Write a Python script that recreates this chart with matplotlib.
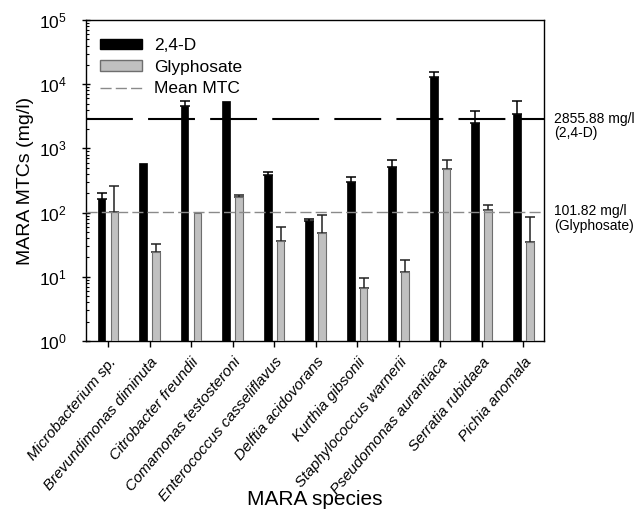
import matplotlib
matplotlib.use('Agg')
import matplotlib.pyplot as plt
import numpy as np
from matplotlib.transforms import blended_transform_factory
from matplotlib.patches import Patch
from matplotlib.lines import Line2D
from matplotlib.ticker import LogLocator, NullFormatter

plt.rcParams['font.family'] = ['Liberation Sans', 'DejaVu Sans']
plt.rcParams['mathtext.fontset'] = 'custom'
plt.rcParams['mathtext.rm'] = 'Liberation Sans'
plt.rcParams['mathtext.it'] = 'Liberation Sans:italic'

species = ["Microbacterium sp.", "Brevundimonas diminuta", "Citrobacter freundii",
           "Comamonas testosteroni", "Enterococcus casseliflavus", "Delftia acidovorans",
           "Kurthia gibsonii", "Staphylococcus warnerii", "Pseudomonas aurantiaca",
           "Serratia rubidaea", "Pichia anomala"]
d24_values = [161, 598, 4620, 5530, 385, 74, 302, 512, 13100, 2460, 3435]
d24_upper = [199, None, 5410, None, 434, 80, 363, 653, 15700, 3780, 5530]
gly_values = [103, 24, 100, 173, 36.5, 48, 6.8, 11.9, 472, 110, 35]
gly_upper = [256, 32.8, None, 190, 59.7, 92, 9.5, 18, 653, 131, 85]
mean_d24 = 2855.88
mean_gly = 101.82

W, H = 637, 515
fig = plt.figure(figsize=(W / 100, H / 100), dpi=100)
ax = fig.add_axes([86 / W, 1 - 341 / H, (544 - 86) / W, (341 - 20) / H])
ax.set_yscale('log')

x = np.arange(len(species))
bw = 0.185
off = 0.155
black_col = '#000000'
grey_col = '#c0c0c0'
ax.bar(x - off, d24_values, width=bw, color=black_col, edgecolor=black_col, linewidth=0.5, zorder=3)
ax.bar(x + off, gly_values, width=bw, color=grey_col, edgecolor='#6e6e6e', linewidth=0.8, zorder=3)

def up_err(vals, ups, xs, color):
    idx = [i for i, u in enumerate(ups) if u is not None]
    xv = [xs[i] for i in idx]
    yv = [vals[i] for i in idx]
    e = [ups[i] - vals[i] for i in idx]
    ax.errorbar(xv, yv, yerr=[np.zeros(len(e)), e], fmt='none', ecolor=color,
                elinewidth=1.1, capsize=3.3, capthick=1.1, zorder=2)

up_err(d24_values, d24_upper, x - off, '#000000')
up_err(gly_values, gly_upper, x + off, '#222222')

ax.axhline(mean_d24, color='black', lw=1.5, linestyle=(0, (22.5, 7.3)), zorder=4)
ax.axhline(mean_gly, color='#8a8a8a', lw=1.0, linestyle=(0, (8, 3)), zorder=4)

ax.set_xlim(-0.53, 10.5)
ax.set_ylim(1, 1e5)
ax.set_xticks(x)
ax.set_xticklabels(species, rotation=50, ha='right', va='top', rotation_mode='anchor',
                   fontstyle='italic', fontsize=11)
ax.yaxis.set_major_locator(LogLocator(base=10, numticks=10))
ax.yaxis.set_minor_locator(LogLocator(base=10, subs=np.arange(2, 10), numticks=20))
ax.yaxis.set_minor_formatter(NullFormatter())
ax.tick_params(axis='y', which='major', direction='inout', length=6, width=1, labelsize=12.5, pad=11)
ax.tick_params(axis='y', which='minor', direction='in', length=2.5, width=0.8)
ax.tick_params(axis='x', which='major', direction='out', length=4, width=1, pad=6)
for s in ax.spines.values():
    s.set_linewidth(1.0)

ax.set_ylabel('MARA MTCs (mg/l)', fontsize=14)
ax.yaxis.set_label_coords(-0.113, 0.5)
ax.set_xlabel('MARA species', fontsize=15)
ax.xaxis.set_label_coords(0.5, -0.465)

tr = blended_transform_factory(ax.transAxes, ax.transData)
ax.annotate('2855.88 mg/l\n(2,4-D)', xy=(1.022, mean_d24), xycoords=tr,
            xytext=(0, 5.5), textcoords='offset points', va='top', ha='left',
            fontsize=10, linespacing=1.0, annotation_clip=False)
ax.annotate('101.82 mg/l\n(Glyphosate)', xy=(1.022, mean_gly), xycoords=tr,
            xytext=(0, 5.5), textcoords='offset points', va='top', ha='left',
            fontsize=10, linespacing=1.05, annotation_clip=False)

handles = [Patch(facecolor=black_col, edgecolor=black_col),
           Patch(facecolor=grey_col, edgecolor='#6e6e6e'),
           Line2D([], [], color='#8a8a8a', lw=1.0, linestyle=(0, (8, 3)))]
ax.legend(handles, ['2,4-D', 'Glyphosate', 'Mean MTC'], loc='upper left',
          bbox_to_anchor=((100 - 86) / 458, 1 - (38 - 20) / 321), frameon=False,
          fontsize=12.5, handlelength=2.4, handleheight=0.55, handletextpad=0.7,
          labelspacing=0.38, borderpad=0, borderaxespad=0)

fig.savefig('out.png', dpi=100)
